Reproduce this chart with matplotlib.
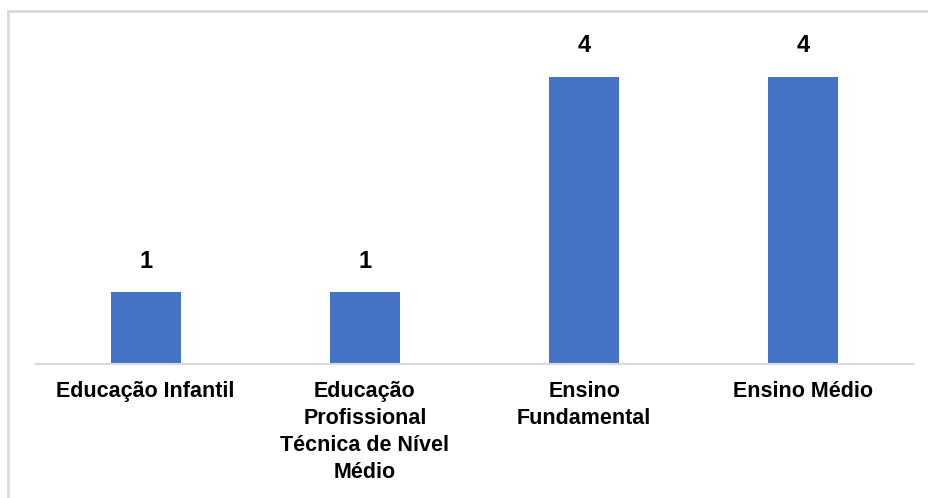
import matplotlib.pyplot as plt
import numpy as np

categories = ["Educação Infantil",
              "Educação\nProfissional\nTécnica de Nível\nMédio",
              "Ensino\nFundamental",
              "Ensino Médio"]
values = [1, 1, 4, 4]

barColour = "#4472C4"

plt.rcParams['font.family'] = ['Liberation Sans', 'DejaVu Sans']


def main():
    fig = plt.figure(figsize=(9.29, 4.98), dpi=100)
    ax = fig.add_axes([36 / 929, 134 / 498, 877 / 929, 323 / 498])

    x = np.arange(len(categories))
    rects = ax.bar(x, values, width=0.32, color=barColour)
    ax.bar_label(rects, padding=14, fontsize=17, fontweight='bold')

    ax.set_xlim(-0.5, len(categories) - 0.5)
    ax.set_ylim(0, 4.5)
    ax.set_xticks(x, categories, fontsize=15.5, fontweight='bold', linespacing=1.38)
    ax.tick_params(axis='x', length=0, pad=12)
    ax.set_yticks([])

    for side in ['top', 'right', 'left']:
        ax.spines[side].set_visible(False)
    ax.spines['bottom'].set_color('#d9d9d9')
    ax.spines['bottom'].set_linewidth(1.5)

    # chart area border (only left and top edges are in view)
    fig.add_artist(plt.Line2D([8 / 929, 8 / 929], [0, 1 - 11 / 498], color='#d9d9d9', lw=2))
    fig.add_artist(plt.Line2D([8 / 929, 1], [1 - 11 / 498, 1 - 11 / 498], color='#d9d9d9', lw=2))

    fig.savefig('out.png', dpi=100)


if __name__ == "__main__":
    main()
